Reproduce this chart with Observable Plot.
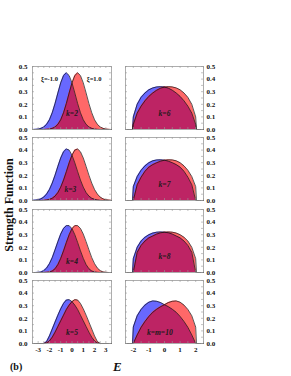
<!DOCTYPE html>
<html>
<head>
<meta charset="utf-8">
<script src="https://cdn.jsdelivr.net/npm/d3@7"></script>
<script src="https://cdn.jsdelivr.net/npm/@observablehq/plot@0.6"></script>
<style>
  html, body { margin: 0; padding: 0; background: #fff; }
  #chart { position: relative; width: 291px; height: 376px; overflow: hidden; background: #fff;
           font-family: "Liberation Serif", "DejaVu Serif", serif; }
  #chart svg { position: absolute; overflow: visible; }
  .lab { position: absolute; font-weight: bold; color: #111; white-space: nowrap; }
</style>
</head>
<body>
<div id="chart"></div>
<script>
// ---- data ----
const xLeft = [-3.5,-3.25,-3,-2.75,-2.5,-2.25,-2,-1.75,-1.5,-1.25,-1,-0.75,-0.5,-0.25,0,0.25,0.5,0.75,1,1.25,1.5,1.75,2,2.25,2.5,2.75,3,3.25,3.5];
const xRight = [-2.5,-2.25,-2.05,-2,-1.75,-1.5,-1.25,-1,-0.75,-0.5,-0.25,0,0.25,0.5,0.75,1,1.25,1.5,1.75,2,2.05,2.25,2.5];

const k2Blue = [0.000,0.001,0.003,0.009,0.020,0.041,0.077,0.133,0.206,0.290,0.370,0.428,0.450,0.428,0.370,0.290,0.206,0.133,0.077,0.041,0.020,0.009,0.003,0.001,0,0,0,0,0];
const k2Red  = [0,0,0,0,0,0.001,0.003,0.009,0.020,0.041,0.077,0.133,0.206,0.290,0.370,0.428,0.450,0.428,0.370,0.290,0.206,0.133,0.077,0.041,0.020,0.009,0.003,0.001,0.000];
const k3Blue = [0.001,0.003,0.006,0.013,0.027,0.051,0.087,0.138,0.201,0.271,0.337,0.387,0.409,0.400,0.360,0.299,0.229,0.162,0.106,0.063,0.035,0.018,0.009,0.004,0.001,0,0,0,0];
const k3Red  = [0,0,0,0,0.001,0.004,0.009,0.018,0.035,0.063,0.106,0.162,0.229,0.299,0.360,0.400,0.409,0.387,0.337,0.271,0.201,0.138,0.087,0.051,0.027,0.013,0.006,0.003,0.001];
const k4Blue = [0,0,0.001,0.004,0.015,0.035,0.070,0.118,0.180,0.245,0.305,0.350,0.372,0.372,0.348,0.300,0.238,0.172,0.112,0.063,0.030,0.012,0.004,0.001,0,0,0,0,0];
const k4Red  = [0,0,0,0,0,0.001,0.004,0.012,0.030,0.063,0.112,0.172,0.238,0.300,0.348,0.372,0.372,0.350,0.305,0.245,0.180,0.118,0.070,0.035,0.015,0.004,0.001,0,0];
const k5Blue = [0,0,0,0,0,0.015,0.060,0.115,0.170,0.225,0.275,0.318,0.345,0.348,0.332,0.305,0.270,0.225,0.180,0.135,0.090,0.050,0.020,0.004,0,0,0,0,0];
const k5Red  = [0,0,0,0,0,0.004,0.020,0.050,0.090,0.135,0.180,0.225,0.270,0.305,0.332,0.348,0.345,0.318,0.275,0.225,0.170,0.115,0.060,0.015,0,0,0,0,0];

const k6Blue  = [0,0,0,0.100,0.200,0.255,0.290,0.315,0.330,0.338,0.340,0.337,0.328,0.312,0.290,0.263,0.228,0.185,0.130,0.040,0,0,0];
const k6Red   = [0,0,0,0.040,0.130,0.185,0.228,0.263,0.290,0.312,0.328,0.337,0.340,0.338,0.330,0.315,0.290,0.255,0.200,0.100,0,0,0];
const k7Blue  = [0,0,0,0.110,0.190,0.240,0.275,0.300,0.315,0.322,0.323,0.320,0.312,0.300,0.285,0.265,0.232,0.185,0.125,0,0,0,0];
const k7Red   = [0,0,0,0,0.125,0.185,0.232,0.265,0.285,0.300,0.312,0.320,0.323,0.322,0.315,0.300,0.275,0.240,0.190,0.110,0,0,0];
const k8Blue  = [0,0,0,0.110,0.200,0.250,0.280,0.300,0.313,0.320,0.322,0.320,0.315,0.305,0.290,0.275,0.250,0.215,0.160,0,0,0,0];
const k8Red   = [0,0,0,0,0.160,0.215,0.250,0.275,0.290,0.305,0.315,0.320,0.322,0.320,0.313,0.300,0.280,0.250,0.200,0.110,0,0,0];
const k10Blue = [0,0,0,0.130,0.220,0.270,0.305,0.328,0.338,0.335,0.325,0.308,0.292,0.272,0.248,0.215,0.175,0.128,0.068,0,0,0,0];
const k10Red  = [0,0,0,0,0.068,0.128,0.175,0.215,0.248,0.272,0.292,0.308,0.325,0.335,0.338,0.328,0.305,0.270,0.220,0.130,0,0,0];

const panelLabels = ["k=2","k=3","k=4","k=5","k=6","k=7","k=8","k=m=10"];
const seriesNames = ["ξ=-1.0","ξ=1.0"];
const yTicks = [0,0.1,0.2,0.3,0.4,0.5];
const yTickLabels = ["0.0","0.1","0.2","0.3","0.4","0.5"];
const xTicksLeft = [-3,-2,-1,0,1,2,3];
const xTickLabelsLeft = ["-3","-2","-1","0","1","2","3"];
const xTicksRight = [-2,-1,0,1,2];
const xTickLabelsRight = ["-2","-1","0","1","2"];

// ---- styling / layout ----
const BLUE = "#6868ff", RED = "#ff6868", PURPLE = "#bd2464";
const W = [112, 111], ML = [32, 13], MR = [1, 20], LEFTPOS = [0, 112];
const rowTop = [66, 137, 209, 280];
const PH = 63, MT = 4, MB = 14;
const xDomains = [[-3.5, 3.5], [-2.5, 2.5]];
const xMinor = [d3.range(-3.5, 3.51, 0.5), d3.range(-2.5, 2.51, 0.5)];
const yMinor = d3.range(0, 0.501, 0.05);
const FONT = "'Liberation Serif', 'DejaVu Serif', serif";

const panels = [
  {col:0,row:0,x:xLeft,b:k2Blue,r:k2Red,label:panelLabels[0],lx:0,ldy:-14,xi:true},
  {col:0,row:1,x:xLeft,b:k3Blue,r:k3Red,label:panelLabels[1],lx:-0.15,ldy:-9},
  {col:0,row:2,x:xLeft,b:k4Blue,r:k4Red,label:panelLabels[2],lx:0,ldy:-9},
  {col:0,row:3,x:xLeft,b:k5Blue,r:k5Red,label:panelLabels[3],lx:0,ldy:-9},
  {col:1,row:0,x:xRight,b:k6Blue,r:k6Red,label:panelLabels[4],lx:0,ldy:-14},
  {col:1,row:1,x:xRight,b:k7Blue,r:k7Red,label:panelLabels[5],lx:0,ldy:-14},
  {col:1,row:2,x:xRight,b:k8Blue,r:k8Red,label:panelLabels[6],lx:0,ldy:-14},
  {col:1,row:3,x:xRight,b:k10Blue,r:k10Red,label:panelLabels[7],lx:-0.3,ldy:-9}
];

const chart = document.getElementById("chart");

function panel(p) {
  const c = p.col;
  const data = p.x.map((x, i) => ({x, b: p.b[i], r: p.r[i]}));
  const pw = W[c] - ML[c] - MR[c];
  const textOpts = {fontFamily: FONT, fontWeight: "bold", fontSize: 7, fill: "#111"};
  const marks = [
    Plot.areaY(data, {x: "x", y: "b", fill: BLUE}),
    Plot.areaY(data, {x: "x", y: "r", fill: RED}),
    Plot.areaY(data, {x: "x", y: d => Math.min(d.b, d.r), fill: PURPLE}),
    Plot.lineY(data, {x: "x", y: "b", stroke: "#111", strokeWidth: 0.7}),
    Plot.lineY(data, {x: "x", y: "r", stroke: "#111", strokeWidth: 0.7}),
    Plot.frame({stroke: "#999", strokeWidth: 0.8}),
    Plot.ruleX(xMinor[c], {x: d => d, stroke: "#999", strokeWidth: 0.6, insetTop: PH - 2}),
    Plot.ruleX(xMinor[c], {x: d => d, stroke: "#999", strokeWidth: 0.6, insetBottom: PH - 2}),
    Plot.ruleY(yMinor, {y: d => d, stroke: "#999", strokeWidth: 0.6, insetRight: pw - 2}),
    Plot.ruleY(yMinor, {y: d => d, stroke: "#999", strokeWidth: 0.6, insetLeft: pw - 2}),
    Plot.axisY({anchor: c ? "right" : "left", ticks: yTicks, tickSize: 0, tickPadding: c ? 3 : 5,
      label: null, tickFormat: d => yTickLabels[yTicks.indexOf(d)], ...textOpts}),
    Plot.text([p.label], {x: () => p.lx, frameAnchor: "bottom", dy: p.ldy, text: d => d,
      fontFamily: FONT, fontSize: 7.5, fontStyle: "italic", fontWeight: "bold", fill: "#1a1a1a"})
  ];
  if (p.row === 3) {
    const ticks = c ? xTicksRight : xTicksLeft;
    const labs = c ? xTickLabelsRight : xTickLabelsLeft;
    marks.push(Plot.axisX({anchor: "bottom", ticks, tickSize: 0, tickPadding: 4, label: null,
      tickFormat: d => labs[ticks.indexOf(d)], ...textOpts}));
  }
  if (p.xi) {
    marks.push(Plot.text([seriesNames[0]], {frameAnchor: "top-left", dx: 8.5, dy: 10, text: d => d,
      textAnchor: "start", fontFamily: FONT, fontWeight: "bold", fontSize: 6.5, fill: "#111"}));
    marks.push(Plot.text([seriesNames[1]], {frameAnchor: "top-right", dx: -10, dy: 10, text: d => d,
      textAnchor: "end", fontFamily: FONT, fontWeight: "bold", fontSize: 6.5, fill: "#111"}));
  }
  const svg = Plot.plot({
    width: W[c], height: PH + MT + MB,
    marginLeft: ML[c], marginRight: MR[c], marginTop: MT, marginBottom: MB,
    x: {domain: xDomains[c], axis: null, label: null},
    y: {domain: [0, 0.5], axis: null, label: null},
    style: {background: "transparent", fontFamily: FONT, overflow: "visible"},
    marks
  });
  svg.style.left = LEFTPOS[c] + "px";
  svg.style.top = (rowTop[p.row] - MT) + "px";
  chart.appendChild(svg);
}
panels.forEach(panel);

// ---- outer labels ----
function addLabel(text, css) {
  const d = document.createElement("div");
  d.className = "lab";
  d.textContent = text;
  Object.assign(d.style, css);
  chart.appendChild(d);
  return d;
}
addLabel("Strength Function", {left: "9px", top: "205px", fontSize: "12px",
  transform: "translate(-50%,-50%) rotate(-90deg)"});
addLabel("(b)", {left: "10px", top: "361px", fontSize: "10px"});
addLabel("E", {left: "113px", top: "359px", fontSize: "13px", fontStyle: "italic"});
</script>
</body>
</html>
